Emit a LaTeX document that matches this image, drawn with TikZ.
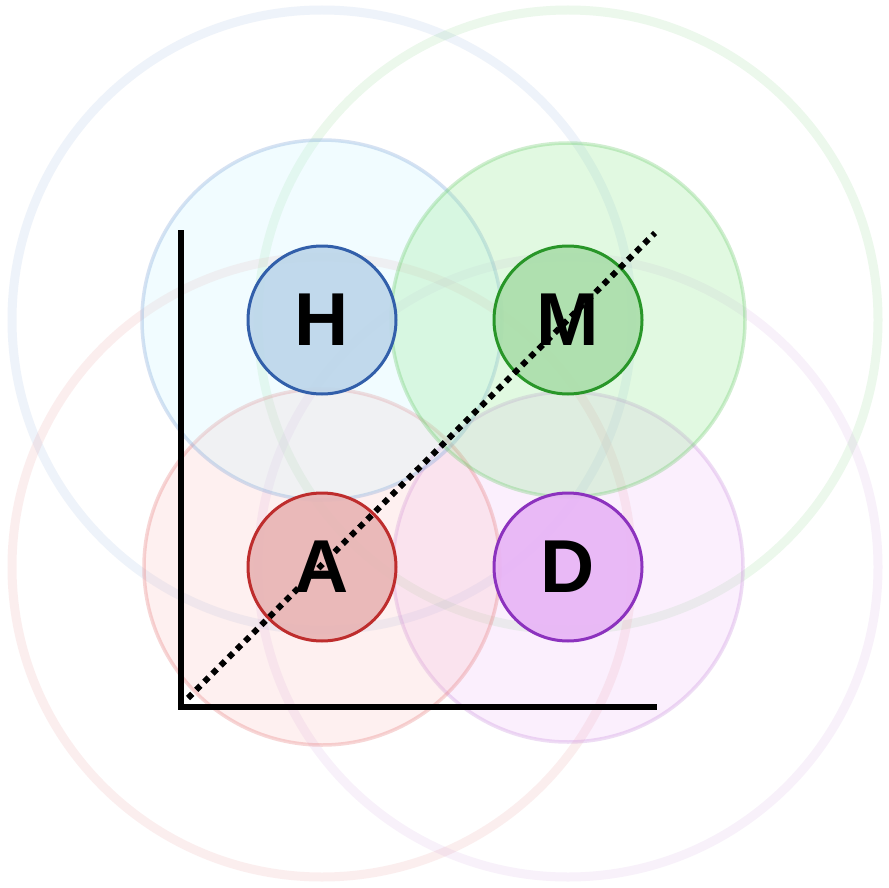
\documentclass[tikz,border=0pt]{standalone}
\usepackage{fontspec}
\setmainfont{Liberation Sans}
\definecolor{hfill}{RGB}{188,214,234}
\definecolor{hline}{RGB}{50,95,170}
\definecolor{mfill}{RGB}{170,222,170}
\definecolor{mline}{RGB}{40,150,40}
\definecolor{afill}{RGB}{232,180,180}
\definecolor{aline}{RGB}{190,45,45}
\definecolor{dfill}{RGB}{232,180,246}
\definecolor{dline}{RGB}{140,50,190}
\definecolor{bmed}{RGB}{200,245,255}
\definecolor{bmedl}{RGB}{120,160,215}
\definecolor{gmed}{RGB}{150,235,150}
\definecolor{gmedl}{RGB}{100,200,100}
\definecolor{rmed}{RGB}{250,180,180}
\definecolor{rmedl}{RGB}{230,120,120}
\definecolor{pmed}{RGB}{235,170,245}
\definecolor{pmedl}{RGB}{200,140,220}
\tikzset{
  bigring/.style={line width=9pt, draw opacity=0.12},
  medring/.style={line width=3.5pt, draw opacity=0.3},
  core/.style={circle, minimum size=148pt, inner sep=0pt, line width=3pt,
    fill opacity=0.9, text opacity=1,
    font=\fontsize{75}{75}\selectfont\bfseries},
  axis/.style={line width=5.5pt, black},
  diag/.style={line width=6pt, dash pattern=on 6pt off 5.5pt, black}
}
\begin{document}
\begin{tikzpicture}[x=1pt,y=-1pt]
\useasboundingbox (0,0) rectangle (889,888);
\fill[white] (0,0) rectangle (889,888);
\coordinate (cH) at (322,320);
\coordinate (cM) at (568,320);
\coordinate (cA) at (322,567);
\coordinate (cD) at (568,567);
% large faint rings
\draw[bigring, draw=bmedl] (cH) circle[radius=310];
\draw[bigring, draw=gmedl] (cM) circle[radius=310];
\draw[bigring, draw=rmedl] (cA) circle[radius=310];
\draw[bigring, draw=pmedl] (cD) circle[radius=310];
% medium rings
\draw[medring, draw=pmedl, fill=pmed, fill opacity=0.18] (cD) circle[radius=175];
\draw[medring, draw=rmedl, fill=rmed, fill opacity=0.2] (cA) circle[radius=178];
\draw[medring, draw=bmedl, fill=bmed, fill opacity=0.25] (cH) circle[radius=180];
\draw[medring, draw=gmedl, fill=gmed, fill opacity=0.28] (cM) circle[radius=177];
% axes
\coordinate (org) at (181,707);
\coordinate (ytop) at (181,230);
\coordinate (xend) at (657,707);
\draw[axis] (ytop) -- (org) -- (xend);
% core circles
\node[core, draw=hline, fill=hfill] (H) at (cH) {H};
\node[core, draw=mline, fill=mfill] (M) at (cM) {M};
\node[core, draw=aline, fill=afill] (A) at (cA) {A};
\node[core, draw=dline, fill=dfill] (D) at (cD) {D};
% diagonal
\coordinate (d1) at (188,698);
\coordinate (d2) at (655,233);
\draw[diag] (d1) -- (d2);
\end{tikzpicture}
\end{document}
